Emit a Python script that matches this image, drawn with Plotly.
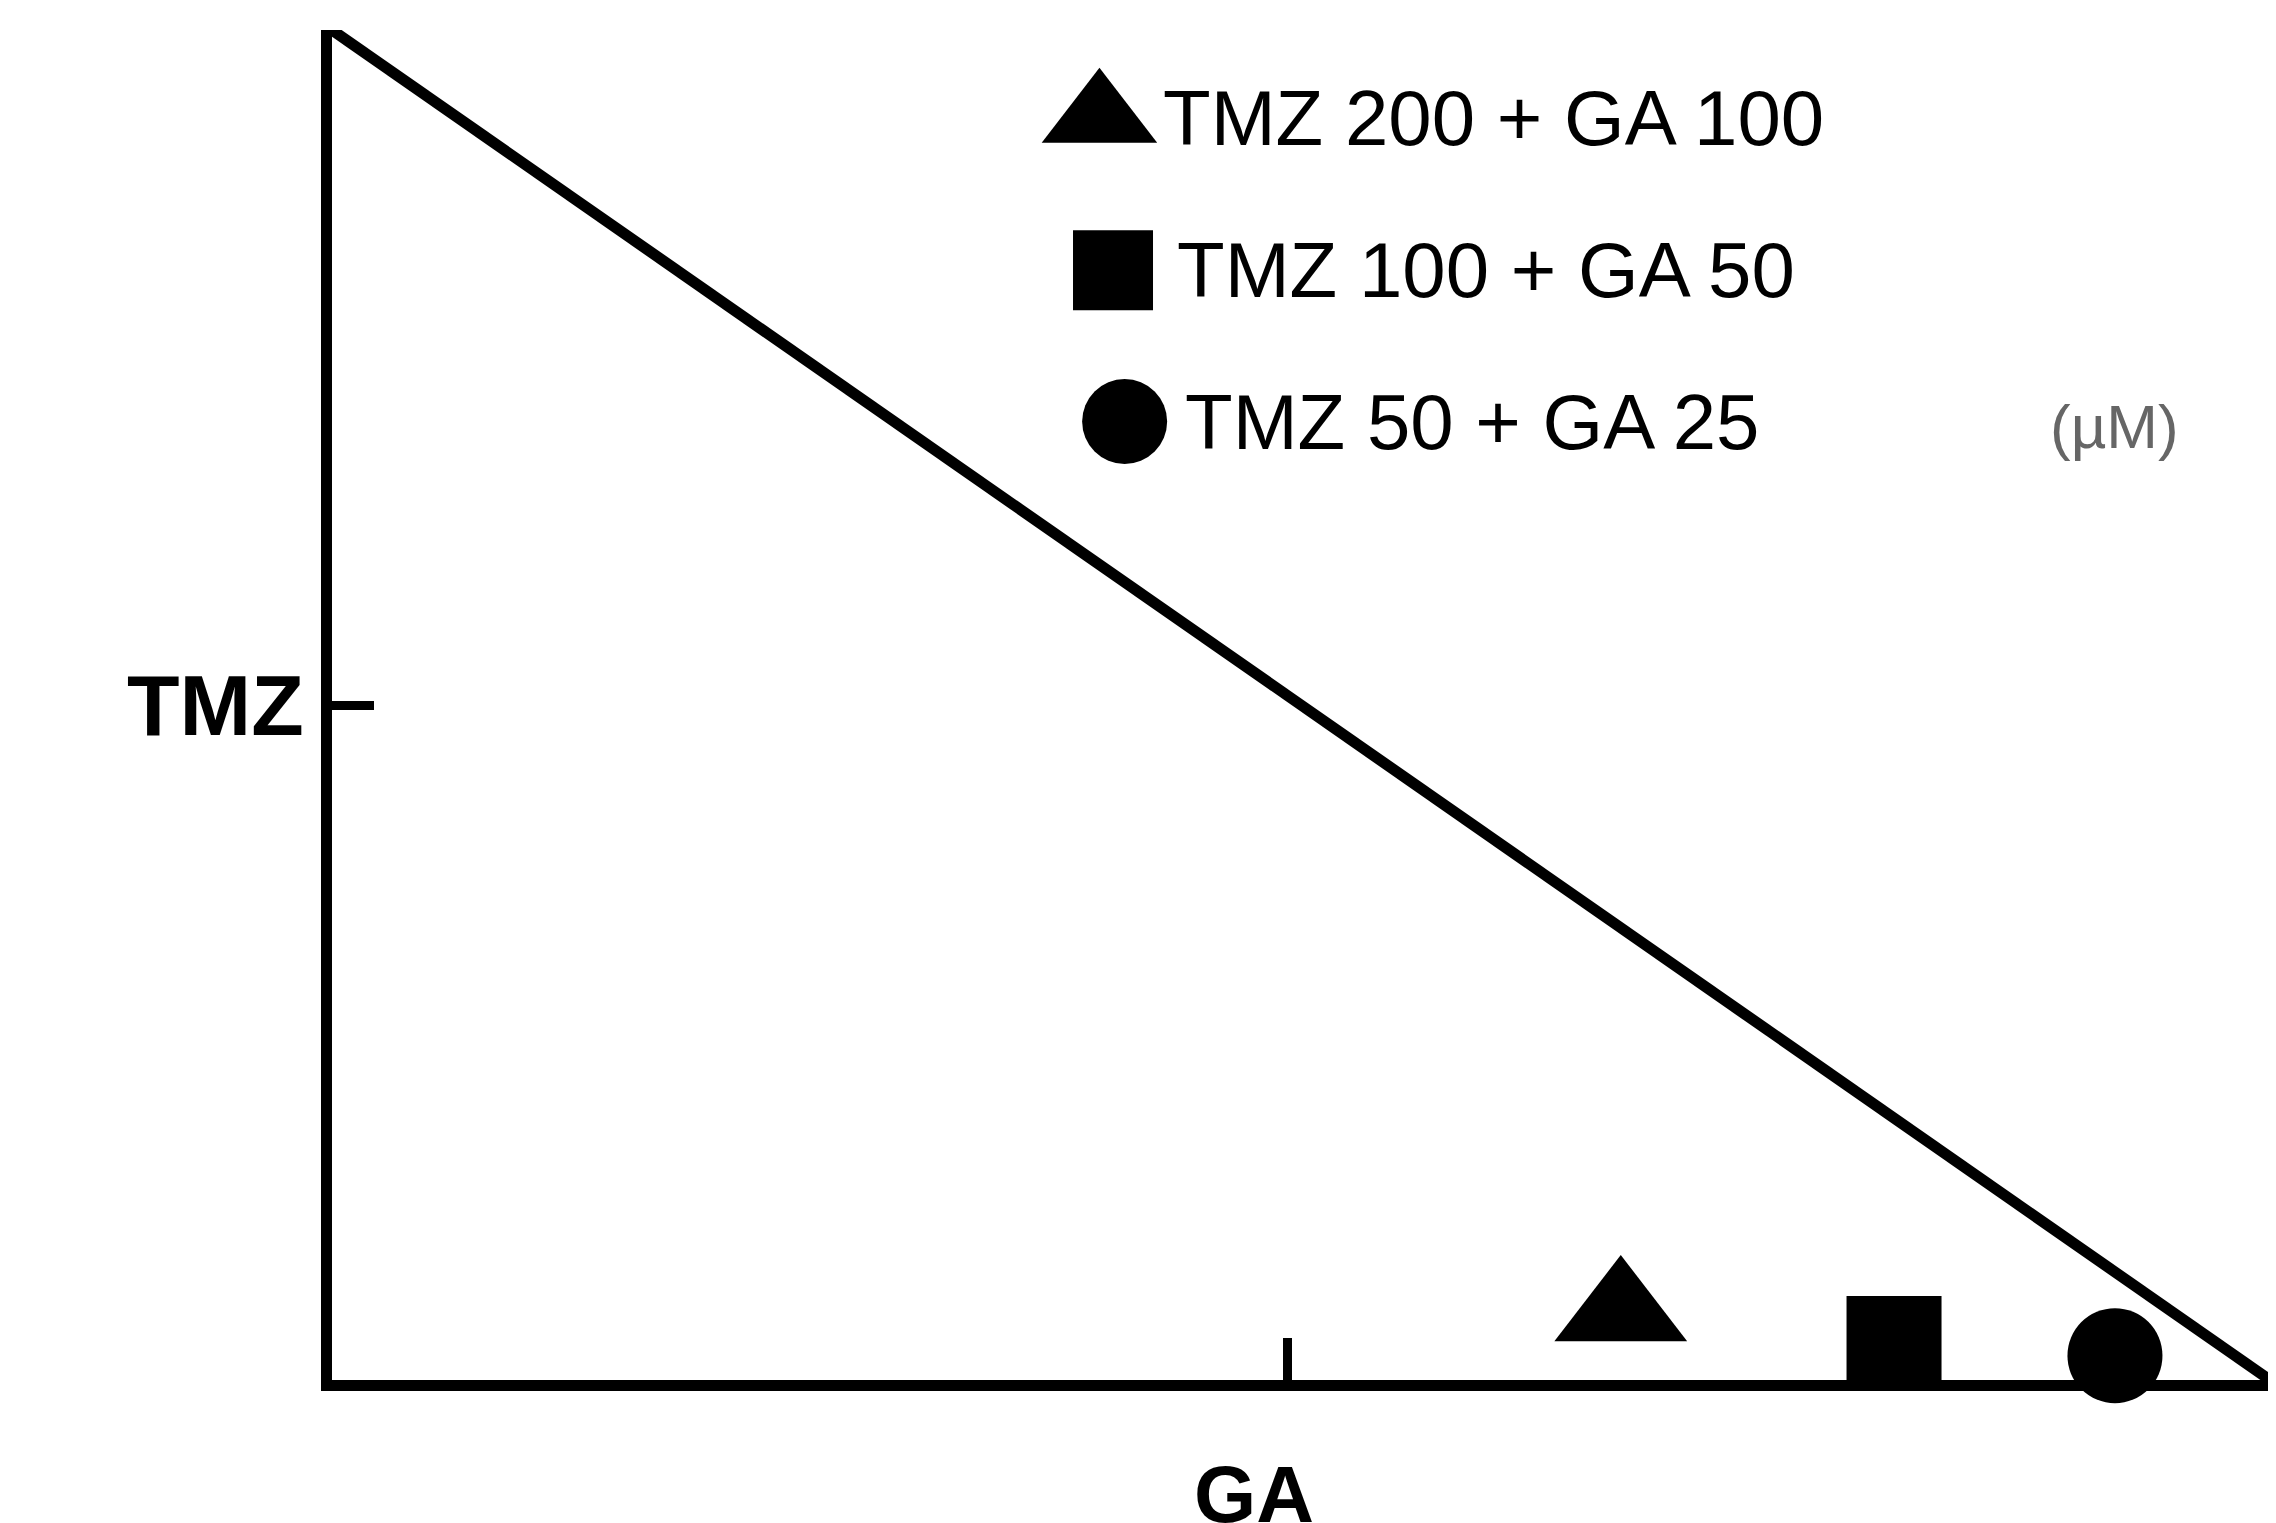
import plotly.graph_objects as go

labels = ["TMZ 200 + GA 100", "TMZ 100 + GA 50", "TMZ 50 + GA 25"]
symbols = ["triangle-up", "square", "circle"]
point_x = [0.665, 0.806, 0.92]
point_y = [0.05, 0.027, 0.018]
point_size = [115, 95, 95]
legend_x = [0.396, 0.403, 0.409]
legend_y = [0.935, 0.822, 0.71]
legend_size = [100, 80, 85]
text_x = [0.428, 0.435, 0.439]
line_x = [0, 1]
line_y = [1, 0]

fig = go.Figure()
fig.add_trace(go.Scatter(x=line_x, y=line_y, mode="lines",
                         line=dict(color="black", width=11), cliponaxis=False))
fig.add_trace(go.Scatter(x=point_x, y=point_y, mode="markers", cliponaxis=False,
                         marker=dict(symbol=symbols, size=point_size, color="black",
                                     opacity=1, line=dict(width=0))))
fig.add_trace(go.Scatter(x=legend_x, y=legend_y, mode="markers", cliponaxis=False,
                         marker=dict(symbol=symbols, size=legend_size, color="black",
                                     opacity=1, line=dict(width=0))))
for t, x, y in zip(labels, text_x, legend_y):
    fig.add_annotation(x=x, y=y, text=t, showarrow=False, xanchor="left",
                       font=dict(size=78, color="black", family="Liberation Sans"))
fig.add_annotation(x=0.92, y=0.706, text="(µM)", showarrow=False,
                   font=dict(size=62, color="#666", family="Liberation Sans"))
fig.add_annotation(x=-0.107, y=0.5, xref="paper", yref="paper", text="<b>TMZ</b>",
                   showarrow=False,
                   font=dict(size=86, color="black", family="Liberation Sans"))
fig.add_annotation(x=0.476, y=-0.085, xref="paper", yref="paper", text="<b>GA</b>",
                   showarrow=False, yanchor="middle",
                   font=dict(size=80, color="black", family="Liberation Sans"))

axis = dict(range=[0, 1], showgrid=False, zeroline=False, showline=True,
            linecolor="black", linewidth=11, ticks="inside", ticklen=42,
            tickwidth=9, tickcolor="black", showticklabels=False)
fig.update_xaxes(**axis, tickvals=[0.493])
fig.update_yaxes(**axis, tickvals=[0.5])
fig.update_layout(width=2276, height=1523, showlegend=False,
                  plot_bgcolor="white", paper_bgcolor="white",
                  margin=dict(l=324, r=14, t=22, b=151))
fig.write_html("out.html")
